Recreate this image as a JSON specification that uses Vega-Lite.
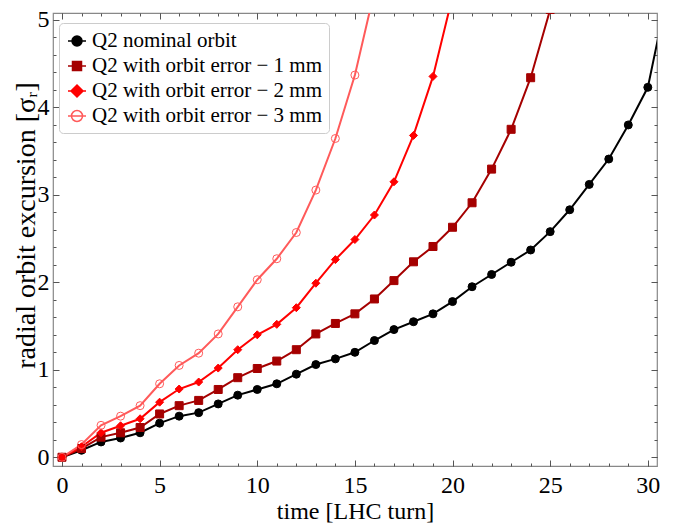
{
  "$schema": "https://vega.github.io/schema/vega-lite/v6.json",
  "width": 604,
  "height": 453,
  "autosize": {"type": "none"},
  "padding": {"left": 53, "top": 13, "right": 16, "bottom": 59},
  "background": "white",
  "config": {
    "view": {"stroke": "#888888", "strokeWidth": 1.2},
    "font": "Liberation Serif",
    "axis": {
      "domain": false,
      "grid": false,
      "labelFont": "Liberation Serif",
      "titleFont": "Liberation Serif",
      "labelColor": "#000000",
      "titleColor": "#000000",
      "titleFontWeight": "normal",
      "tickColor": "#555555",
      "labelFontSize": 24,
      "titleFontSize": 24
    }
  },
  "data": {
    "values": [
      {"s": "Q2 nominal orbit", "x": 0, "y": 0},
      {"s": "Q2 nominal orbit", "x": 1, "y": 0.08},
      {"s": "Q2 nominal orbit", "x": 2, "y": 0.175},
      {"s": "Q2 nominal orbit", "x": 3, "y": 0.22},
      {"s": "Q2 nominal orbit", "x": 4, "y": 0.28},
      {"s": "Q2 nominal orbit", "x": 5, "y": 0.39},
      {"s": "Q2 nominal orbit", "x": 6, "y": 0.47},
      {"s": "Q2 nominal orbit", "x": 7, "y": 0.51},
      {"s": "Q2 nominal orbit", "x": 8, "y": 0.61},
      {"s": "Q2 nominal orbit", "x": 9, "y": 0.71},
      {"s": "Q2 nominal orbit", "x": 10, "y": 0.775},
      {"s": "Q2 nominal orbit", "x": 11, "y": 0.84},
      {"s": "Q2 nominal orbit", "x": 12, "y": 0.95},
      {"s": "Q2 nominal orbit", "x": 13, "y": 1.06},
      {"s": "Q2 nominal orbit", "x": 14, "y": 1.125},
      {"s": "Q2 nominal orbit", "x": 15, "y": 1.2},
      {"s": "Q2 nominal orbit", "x": 16, "y": 1.335},
      {"s": "Q2 nominal orbit", "x": 17, "y": 1.46},
      {"s": "Q2 nominal orbit", "x": 18, "y": 1.55},
      {"s": "Q2 nominal orbit", "x": 19, "y": 1.64},
      {"s": "Q2 nominal orbit", "x": 20, "y": 1.78},
      {"s": "Q2 nominal orbit", "x": 21, "y": 1.95},
      {"s": "Q2 nominal orbit", "x": 22, "y": 2.09},
      {"s": "Q2 nominal orbit", "x": 23, "y": 2.23},
      {"s": "Q2 nominal orbit", "x": 24, "y": 2.37},
      {"s": "Q2 nominal orbit", "x": 25, "y": 2.58},
      {"s": "Q2 nominal orbit", "x": 26, "y": 2.83},
      {"s": "Q2 nominal orbit", "x": 27, "y": 3.12},
      {"s": "Q2 nominal orbit", "x": 28, "y": 3.41},
      {"s": "Q2 nominal orbit", "x": 29, "y": 3.8},
      {"s": "Q2 nominal orbit", "x": 30, "y": 4.23},
      {"s": "Q2 nominal orbit", "x": 31, "y": 5.3},
      {"s": "Q2 with orbit error − 1 mm", "x": 0, "y": 0},
      {"s": "Q2 with orbit error − 1 mm", "x": 1, "y": 0.1},
      {"s": "Q2 with orbit error − 1 mm", "x": 2, "y": 0.23},
      {"s": "Q2 with orbit error − 1 mm", "x": 3, "y": 0.28},
      {"s": "Q2 with orbit error − 1 mm", "x": 4, "y": 0.34},
      {"s": "Q2 with orbit error − 1 mm", "x": 5, "y": 0.495},
      {"s": "Q2 with orbit error − 1 mm", "x": 6, "y": 0.59},
      {"s": "Q2 with orbit error − 1 mm", "x": 7, "y": 0.65},
      {"s": "Q2 with orbit error − 1 mm", "x": 8, "y": 0.775},
      {"s": "Q2 with orbit error − 1 mm", "x": 9, "y": 0.91},
      {"s": "Q2 with orbit error − 1 mm", "x": 10, "y": 1.015},
      {"s": "Q2 with orbit error − 1 mm", "x": 11, "y": 1.1},
      {"s": "Q2 with orbit error − 1 mm", "x": 12, "y": 1.23},
      {"s": "Q2 with orbit error − 1 mm", "x": 13, "y": 1.41},
      {"s": "Q2 with orbit error − 1 mm", "x": 14, "y": 1.53},
      {"s": "Q2 with orbit error − 1 mm", "x": 15, "y": 1.64},
      {"s": "Q2 with orbit error − 1 mm", "x": 16, "y": 1.81},
      {"s": "Q2 with orbit error − 1 mm", "x": 17, "y": 2.02},
      {"s": "Q2 with orbit error − 1 mm", "x": 18, "y": 2.235},
      {"s": "Q2 with orbit error − 1 mm", "x": 19, "y": 2.41},
      {"s": "Q2 with orbit error − 1 mm", "x": 20, "y": 2.63},
      {"s": "Q2 with orbit error − 1 mm", "x": 21, "y": 2.91},
      {"s": "Q2 with orbit error − 1 mm", "x": 22, "y": 3.295},
      {"s": "Q2 with orbit error − 1 mm", "x": 23, "y": 3.75},
      {"s": "Q2 with orbit error − 1 mm", "x": 24, "y": 4.34},
      {"s": "Q2 with orbit error − 1 mm", "x": 25, "y": 5.12},
      {"s": "Q2 with orbit error − 2 mm", "x": 0, "y": 0},
      {"s": "Q2 with orbit error − 2 mm", "x": 1, "y": 0.12},
      {"s": "Q2 with orbit error − 2 mm", "x": 2, "y": 0.28},
      {"s": "Q2 with orbit error − 2 mm", "x": 3, "y": 0.36},
      {"s": "Q2 with orbit error − 2 mm", "x": 4, "y": 0.44},
      {"s": "Q2 with orbit error − 2 mm", "x": 5, "y": 0.63},
      {"s": "Q2 with orbit error − 2 mm", "x": 6, "y": 0.78},
      {"s": "Q2 with orbit error − 2 mm", "x": 7, "y": 0.86},
      {"s": "Q2 with orbit error − 2 mm", "x": 8, "y": 1.02},
      {"s": "Q2 with orbit error − 2 mm", "x": 9, "y": 1.23},
      {"s": "Q2 with orbit error − 2 mm", "x": 10, "y": 1.4},
      {"s": "Q2 with orbit error − 2 mm", "x": 11, "y": 1.52},
      {"s": "Q2 with orbit error − 2 mm", "x": 12, "y": 1.71},
      {"s": "Q2 with orbit error − 2 mm", "x": 13, "y": 1.99},
      {"s": "Q2 with orbit error − 2 mm", "x": 14, "y": 2.26},
      {"s": "Q2 with orbit error − 2 mm", "x": 15, "y": 2.49},
      {"s": "Q2 with orbit error − 2 mm", "x": 16, "y": 2.77},
      {"s": "Q2 with orbit error − 2 mm", "x": 17, "y": 3.15},
      {"s": "Q2 with orbit error − 2 mm", "x": 18, "y": 3.68},
      {"s": "Q2 with orbit error − 2 mm", "x": 19, "y": 4.355},
      {"s": "Q2 with orbit error − 2 mm", "x": 20, "y": 5.27},
      {"s": "Q2 with orbit error − 3 mm", "x": 0, "y": 0},
      {"s": "Q2 with orbit error − 3 mm", "x": 1, "y": 0.145},
      {"s": "Q2 with orbit error − 3 mm", "x": 2, "y": 0.365},
      {"s": "Q2 with orbit error − 3 mm", "x": 3, "y": 0.47},
      {"s": "Q2 with orbit error − 3 mm", "x": 4, "y": 0.59},
      {"s": "Q2 with orbit error − 3 mm", "x": 5, "y": 0.84},
      {"s": "Q2 with orbit error − 3 mm", "x": 6, "y": 1.05},
      {"s": "Q2 with orbit error − 3 mm", "x": 7, "y": 1.19},
      {"s": "Q2 with orbit error − 3 mm", "x": 8, "y": 1.41},
      {"s": "Q2 with orbit error − 3 mm", "x": 9, "y": 1.72},
      {"s": "Q2 with orbit error − 3 mm", "x": 10, "y": 2.03},
      {"s": "Q2 with orbit error − 3 mm", "x": 11, "y": 2.27},
      {"s": "Q2 with orbit error − 3 mm", "x": 12, "y": 2.57},
      {"s": "Q2 with orbit error − 3 mm", "x": 13, "y": 3.055},
      {"s": "Q2 with orbit error − 3 mm", "x": 14, "y": 3.645},
      {"s": "Q2 with orbit error − 3 mm", "x": 15, "y": 4.37},
      {"s": "Q2 with orbit error − 3 mm", "x": 16, "y": 5.33}
    ]
  },
  "resolve": {
    "axis": {"x": "independent", "y": "independent"},
    "scale": {"color": "independent", "shape": "independent", "fill": "independent"}
  },
  "layer": [
    {
      "mark": {"type": "line", "clip": true, "strokeWidth": 2},
      "encoding": {
        "x": {"field": "x", "type": "quantitative",
          "scale": {"domain": [-0.46, 30.47], "nice": false, "zero": false},
          "axis": {"orient": "bottom", "values": [0, 5, 10, 15, 20, 25, 30], "tickSize": -6, "labelPadding": 13, "title": "time [LHC turn]", "titlePadding": 2}},
        "y": {"field": "y", "type": "quantitative",
          "scale": {"domain": [-0.1, 5.08], "nice": false, "zero": false},
          "axis": {"orient": "left", "values": [0, 1, 2, 3, 4, 5], "tickSize": -6, "labelPadding": 10, "title": "radial orbit excursion [σᵣ]", "titleFontSize": 28, "titleX": -19, "titleY": 212, "titleBaseline": "alphabetic"}},
        "color": {"field": "s", "type": "nominal",
          "scale": {"domain": ["Q2 nominal orbit", "Q2 with orbit error − 1 mm", "Q2 with orbit error − 2 mm", "Q2 with orbit error − 3 mm"],
                    "range": ["#000000", "#a50000", "#ff0000", "#ff5a5a"]},
          "legend": null},
        "order": {"field": "x", "type": "quantitative"}
      }
    },
    {
      "mark": {"type": "point", "clip": true, "filled": false, "strokeWidth": 1, "opacity": 1},
      "encoding": {
        "x": {"field": "x", "type": "quantitative",
          "axis": {"orient": "top", "values": [0, 5, 10, 15, 20, 25, 30], "tickSize": -6, "labels": false, "title": null}},
        "y": {"field": "y", "type": "quantitative",
          "axis": {"orient": "right", "values": [0, 1, 2, 3, 4, 5], "tickSize": -6, "labels": false, "title": null}},
        "color": {"field": "s", "type": "nominal",
          "scale": {"domain": ["Q2 nominal orbit", "Q2 with orbit error − 1 mm", "Q2 with orbit error − 2 mm", "Q2 with orbit error − 3 mm"],
                    "range": ["#000000", "#a50000", "#ff0000", "#ff5a5a"]},
          "legend": null},
        "fill": {"field": "s", "type": "nominal",
          "scale": {"domain": ["Q2 nominal orbit", "Q2 with orbit error − 1 mm", "Q2 with orbit error − 2 mm", "Q2 with orbit error − 3 mm"],
                    "range": ["#000000", "#a50000", "#ff0000", "transparent"]},
          "legend": null},
        "shape": {"field": "s", "type": "nominal",
          "scale": {"domain": ["Q2 nominal orbit", "Q2 with orbit error − 1 mm", "Q2 with orbit error − 2 mm", "Q2 with orbit error − 3 mm"],
                    "range": ["circle", "square", "diamond", "circle"]},
          "legend": null},
        "size": {"field": "s", "type": "nominal",
          "scale": {"domain": ["Q2 nominal orbit", "Q2 with orbit error − 1 mm", "Q2 with orbit error − 2 mm", "Q2 with orbit error − 3 mm"],
                    "range": [64, 64, 110, 110]},
          "legend": null}
      }
    },
    {
      "mark": {"type": "point", "opacity": 0, "filled": false, "strokeWidth": 1.5},
      "encoding": {
        "x": {"field": "x", "type": "quantitative",
          "axis": {"orient": "bottom", "values": [0,1,2,3,4,5,6,7,8,9,10,11,12,13,14,15,16,17,18,19,20,21,22,23,24,25,26,27,28,29,30], "tickSize": -3, "labels": false, "title": null}},
        "y": {"field": "y", "type": "quantitative",
          "axis": {"orient": "left", "values": [0,0.2,0.4,0.6,0.8,1,1.2,1.4,1.6,1.8,2,2.2,2.4,2.6,2.8,3,3.2,3.4,3.6,3.8,4,4.2,4.4,4.6,4.8,5], "tickSize": -3, "labels": false, "title": null}},
        "color": {"field": "s", "type": "nominal",
          "scale": {"domain": ["Q2 nominal orbit", "Q2 with orbit error − 1 mm", "Q2 with orbit error − 2 mm", "Q2 with orbit error − 3 mm"],
                    "range": ["#000000", "#a50000", "#ff0000", "#ff5a5a"]},
          "legend": {
            "title": null,
            "orient": "none",
            "legendX": 6,
            "legendY": 10,
            "fillColor": "white",
            "strokeColor": "#cccccc",
            "cornerRadius": 4,
            "padding": 7,
            "labelFont": "Liberation Serif",
            "labelFontSize": 21,
            "labelColor": "#000000",
            "labelLimit": 400,
            "symbolSize": 400,
            "symbolOpacity": 1,
            "symbolStrokeWidth": 1.5,
            "rowPadding": 4,
            "labelOffset": 4
          }},
        "fill": {"field": "s", "type": "nominal",
          "scale": {"domain": ["Q2 nominal orbit", "Q2 with orbit error − 1 mm", "Q2 with orbit error − 2 mm", "Q2 with orbit error − 3 mm"],
                    "range": ["#000000", "#a50000", "#ff0000", "transparent"]},
          "legend": {"title": null, "orient": "none", "legendX": 6, "legendY": 10, "symbolOpacity": 1, "symbolSize": 400, "symbolStrokeWidth": 1.5, "labelFontSize": 21, "labelLimit": 400, "rowPadding": 4, "labelOffset": 4, "padding": 7}},
        "shape": {"field": "s", "type": "nominal",
          "scale": {"domain": ["Q2 nominal orbit", "Q2 with orbit error − 1 mm", "Q2 with orbit error − 2 mm", "Q2 with orbit error − 3 mm"],
                    "range": [
                      "M-0.9,0L-0.5,0M0.5,0L0.9,0M0.5,0A0.5,0.5,0,1,1,-0.5,0A0.5,0.5,0,1,1,0.5,0Z",
                      "M-0.9,0L-0.45,0M0.45,0L0.9,0M-0.45,-0.45L0.45,-0.45L0.45,0.45L-0.45,0.45Z",
                      "M-0.9,0L-0.6,0M0.6,0L0.9,0M0,-0.6L0.6,0L0,0.6L-0.6,0Z",
                      "M-0.9,0L0.9,0M0.55,0A0.55,0.55,0,1,1,-0.55,0A0.55,0.55,0,1,1,0.55,0Z"
                    ]},
          "legend": {"title": null, "orient": "none", "legendX": 6, "legendY": 10, "symbolOpacity": 1, "symbolSize": 400, "symbolStrokeWidth": 1.5, "labelFontSize": 21, "labelLimit": 400, "rowPadding": 4, "labelOffset": 4, "padding": 7}}
      }
    },
    {
      "mark": {"type": "point", "opacity": 0},
      "encoding": {
        "x": {"field": "x", "type": "quantitative",
          "axis": {"orient": "top", "values": [0,1,2,3,4,5,6,7,8,9,10,11,12,13,14,15,16,17,18,19,20,21,22,23,24,25,26,27,28,29,30], "tickSize": -3, "labels": false, "title": null}},
        "y": {"field": "y", "type": "quantitative",
          "axis": {"orient": "right", "values": [0,0.2,0.4,0.6,0.8,1,1.2,1.4,1.6,1.8,2,2.2,2.4,2.6,2.8,3,3.2,3.4,3.6,3.8,4,4.2,4.4,4.6,4.8,5], "tickSize": -3, "labels": false, "title": null}}
      }
    }
  ]
}
